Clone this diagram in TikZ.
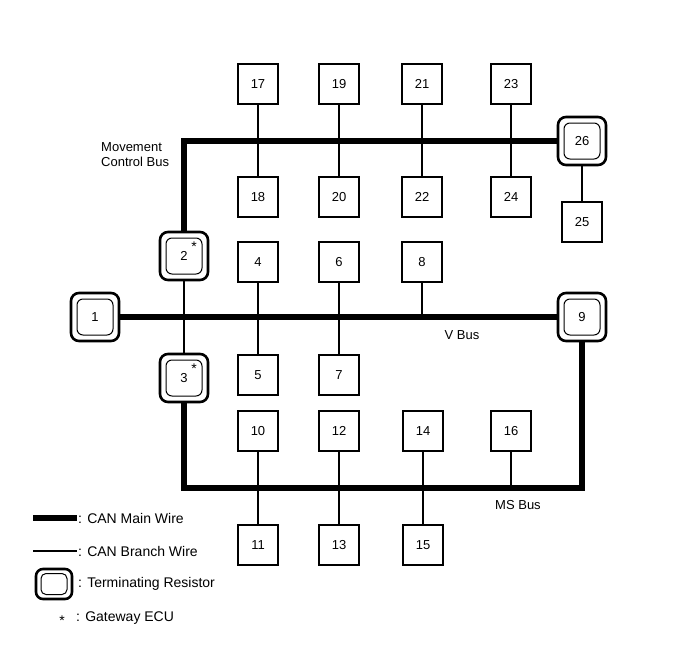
\documentclass[tikz,border=0pt]{standalone}
\usepackage{fontspec}
\setmainfont{Liberation Sans}
\begin{document}
\begin{tikzpicture}[x=1pt,y=-1pt,
  every node/.style={font=\fontsize{13}{15}\selectfont},
  box/.style={draw,line width=1.3pt,fill=white,minimum width=40pt,minimum height=40pt,inner sep=0pt},
  termout/.style={draw,line width=2.6pt,fill=white,rounded corners=8pt,minimum width=48pt,minimum height=48pt,inner sep=0pt},
  termin/.style={draw,line width=1pt,rounded corners=6pt,minimum width=36pt,minimum height=36pt,inner sep=0pt},
  mainwire/.style={line width=6.5pt},
  branch/.style={line width=1.6pt},
  lbl/.style={inner sep=0pt},
  leg/.style={inner sep=0pt,font=\fontsize{14}{16}\selectfont},
  star/.style={inner sep=0pt,font=\fontsize{14}{16}\selectfont}]
\useasboundingbox (0,0) rectangle (689,659);
% coordinates
\coordinate (ms) at (400,488);
% terminator outer nodes
\node[termout] (t1) at (95,317) {};
\node[termout] (t2) at (184,256) {};
\node[termout] (t3) at (184,378) {};
\node[termout] (t9) at (582,317) {};
\node[termout] (t26) at (582,141) {};
% main wires
\draw[mainwire] (t2.north) |- (t26.west);
\draw[mainwire] (t1.east) -- (t9.west);
\draw[mainwire] (t3.south) |- (ms) -| (t9.south);
% boxes
\node[box] (b17) at (258,84) {17};
\node[box] (b18) at (258,197) {18};
\node[box] (b19) at (339,84) {19};
\node[box] (b20) at (339,197) {20};
\node[box] (b21) at (422,84) {21};
\node[box] (b22) at (422,197) {22};
\node[box] (b23) at (511,84) {23};
\node[box] (b24) at (511,197) {24};
\node[box] (b25) at (582,222) {25};
\node[box] (b4) at (258,262) {4};
\node[box] (b5) at (258,375) {5};
\node[box] (b6) at (339,262) {6};
\node[box] (b7) at (339,375) {7};
\node[box] (b8) at (422,262) {8};
\node[box] (b10) at (258,431) {10};
\node[box] (b11) at (258,545) {11};
\node[box] (b12) at (339,431) {12};
\node[box] (b13) at (339,545) {13};
\node[box] (b14) at (423,431) {14};
\node[box] (b15) at (423,545) {15};
\node[box] (b16) at (511,431) {16};
% branch wires
\draw[branch] (b17) -- (b18);
\draw[branch] (b19) -- (b20);
\draw[branch] (b21) -- (b22);
\draw[branch] (b23) -- (b24);
\draw[branch] (t26) -- (b25);
\draw[branch] (t2) -- (t3);
\draw[branch] (b4) -- (b5);
\draw[branch] (b6) -- (b7);
\draw[branch] (b8.south) -- (b8 |- t1);
\draw[branch] (b10) -- (b11);
\draw[branch] (b12) -- (b13);
\draw[branch] (b14) -- (b15);
\draw[branch] (b16.south) -- (b16 |- ms);
% inner terminator nodes
\node[termin] (i1) at (t1) {1};
\node[termin] (i2) at (t2) {2};
\node[termin] (i3) at (t3) {3};
\node[termin] (i9) at (t9) {9};
\node[termin] (i26) at (t26) {26};
\node[star] (s2) at ([xshift=10pt,yshift=9pt]t2.center) {*};
\node[star] (s3) at ([xshift=10pt,yshift=9pt]t3.center) {*};
% bus labels
\node[lbl,align=left,anchor=west] (mcb) at (101,155) {Movement\\Control Bus};
\node[lbl] (vbus) at (462,335) {V Bus};
\node[lbl] (msbus) at (518,505) {MS Bus};
% legend
\coordinate (lm1) at (33,518);
\coordinate (lm2) at (77,518);
\draw[mainwire] (lm1) -- (lm2);
\node[leg,anchor=west] (lt1) at (78,518) {: CAN Main Wire};
\coordinate (lb1) at (33,551);
\coordinate (lb2) at (77,551);
\draw[branch] (lb1) -- (lb2);
\node[leg,anchor=west] (lt2) at (78,551) {: CAN Branch Wire};
\node[termout,minimum width=36pt,minimum height=30pt,rounded corners=7pt] (lto) at (54,584) {};
\node[termin,minimum width=26pt,minimum height=21pt,rounded corners=5pt] (lti) at (lto) {};
\node[leg,anchor=west] (lt3) at (78,584) {: Terminating Resistor};
\node[star] (ls) at (62,621) {*};
\node[leg,anchor=west] (lt4) at (76,618) {: Gateway ECU};
\end{tikzpicture}
\end{document}
